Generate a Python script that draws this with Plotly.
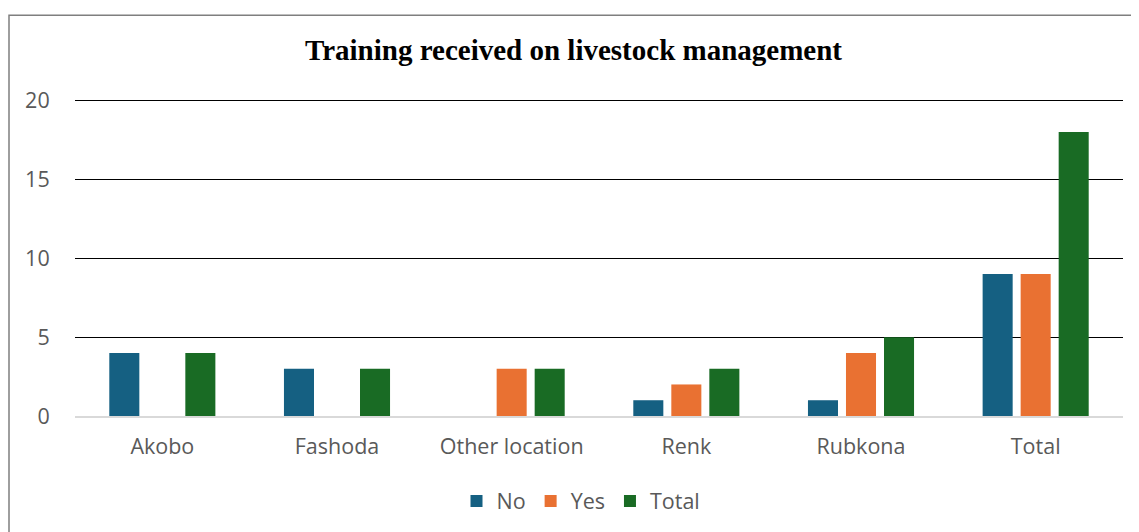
import plotly.graph_objects as go

categories = ["Akobo", "Fashoda", "Other location", "Renk", "Rubkona", "Total"]
no_vals = [4, 3, 0, 1, 1, 9]
yes_vals = [0, 0, 3, 2, 4, 9]
total_vals = [4, 3, 3, 3, 5, 18]
y_ticks = [0, 5, 10, 15, 20]

colors = {"No": "#156082", "Yes": "#E97132", "Total": "#196B24"}

fig = go.Figure()
for name, vals in [("No", no_vals), ("Yes", yes_vals), ("Total", total_vals)]:
    fig.add_trace(go.Bar(
        name=name, x=categories, y=vals,
        marker=dict(color=colors[name], line=dict(width=0)),
    ))

# page has an 8px body margin; work in figure coordinates
OFF = 8
YMAX = 20.1
W, H = 1139 - OFF, 532 - OFF
L = 75 - OFF
unit = (417 - 101) / 20.0
T = round(101 - OFF - (YMAX - 20) * unit)
R = W - (1123 - OFF)
B = H - (417 - OFF)
pw, ph = W - L - R, H - T - B

TICK_FONT = dict(family="Open Sans", size=21.5, color="#595959")

fig.update_layout(
    width=W, height=H,
    margin=dict(l=L, r=R, t=T, b=B),
    paper_bgcolor="white", plot_bgcolor="white",
    barmode="group", bargap=0.347, bargroupgap=0.21,
    title=dict(text="<b>Training received on livestock management</b>",
               x=0.5, xanchor="center", y=1 - (50 - OFF) / H, yanchor="middle",
               font=dict(family="Liberation Serif", size=29, color="#000000")),
    font=TICK_FONT,
    legend=dict(orientation="h", x=0.5 - 18 / pw, xanchor="center",
                y=-(501 - 417) / ph, yanchor="middle",
                font=TICK_FONT, itemwidth=30, traceorder="normal"),
    showlegend=True,
)
fig.update_xaxes(showgrid=False, showline=True, linecolor="#D9D9D9", linewidth=1.5,
                 ticks="outside", ticklen=10, tickcolor="rgba(0,0,0,0)",
                 tickfont=TICK_FONT)
fig.update_yaxes(range=[0, YMAX], tickvals=y_ticks, showgrid=True, gridcolor="#000000",
                 gridwidth=1, zeroline=False, showline=False,
                 ticks="outside", ticklen=20, tickcolor="rgba(0,0,0,0)",
                 tickfont=TICK_FONT)

# chart border (outer frame)
fig.add_shape(type="rect", xref="paper", yref="paper",
              x0=(9 - 75) / pw, x1=(1139 + 20 - 75) / pw,
              y0=-(B + 20) / ph, y1=(417 - 15) / ph,
              line=dict(color="#7F7F7F", width=1.5), layer="below")

fig.write_html("out.html")
